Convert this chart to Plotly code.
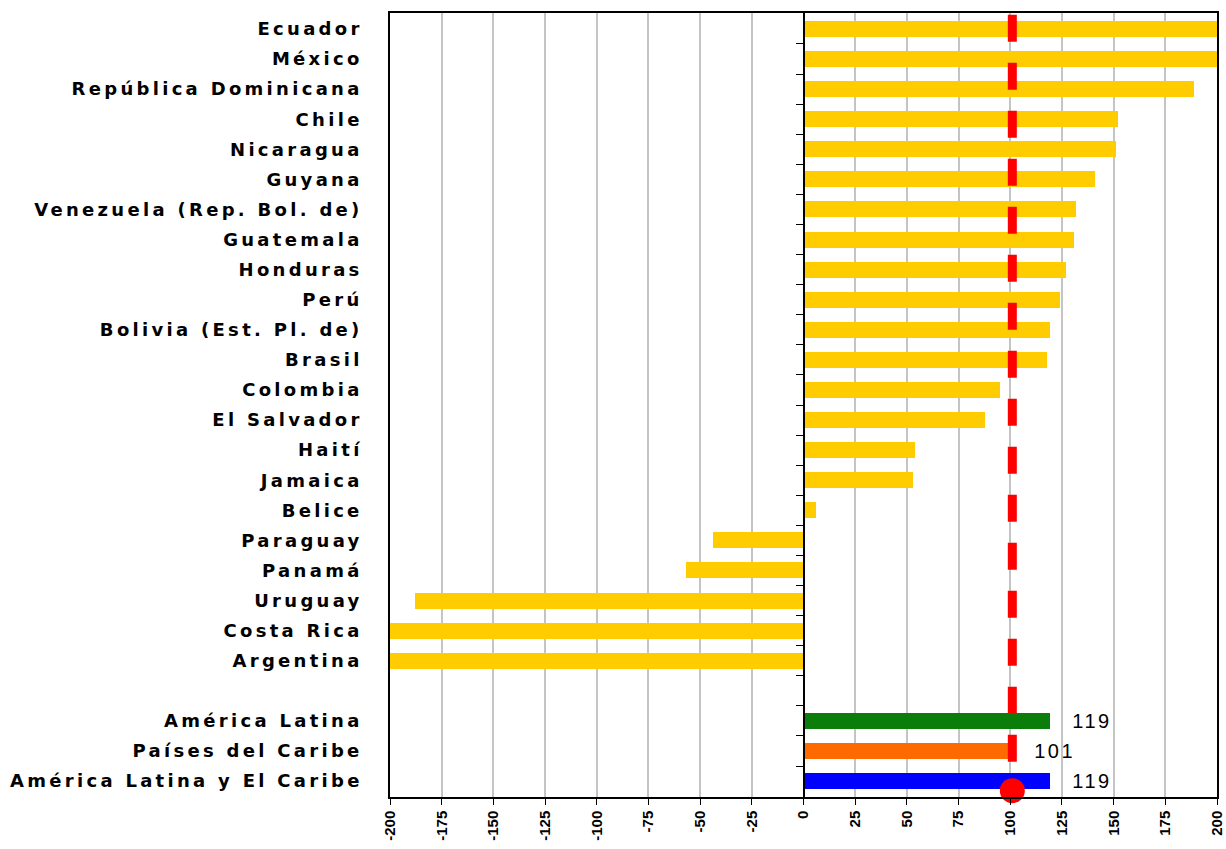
import plotly.graph_objects as go

countries = ["Ecuador", "México", "República Dominicana", "Chile", "Nicaragua", "Guyana",
             "Venezuela (Rep. Bol. de)", "Guatemala", "Honduras", "Perú",
             "Bolivia (Est. Pl. de)", "Brasil", "Colombia", "El Salvador", "Haití",
             "Jamaica", "Belice", "Paraguay", "Panamá", "Uruguay", "Costa Rica", "Argentina"]
country_values = [215, 210, 189, 152, 151, 141, 132, 131, 127, 124, 119, 118, 95, 88,
                  54, 53, 6, -44, -57, -188, -215, -220]

aggregates = ["América Latina", "Países del Caribe", "América Latina y El Caribe"]
aggregate_values = [119, 101, 119]
aggregate_colors = ["#0b7d0b", "#ff6a00", "#0000ff"]
aggregate_text = ["119", "101", "119"]

reference_value = 101
x_ticks = list(range(-200, 201, 25))

labels = countries + [""] + aggregates
n = len(labels)
pos_c = list(range(len(countries)))
pos_a = list(range(len(countries) + 1, n))

fig = go.Figure()
fig.add_trace(go.Bar(x=country_values, y=pos_c, orientation="h", width=0.53,
                     marker=dict(color="#ffcc00", line=dict(width=0)), showlegend=False))
fig.add_trace(go.Bar(x=aggregate_values, y=pos_a, orientation="h", width=0.53,
                     marker=dict(color=aggregate_colors, line=dict(width=0)), showlegend=False))

# reference dashed line and dot
fig.add_trace(go.Scatter(x=[reference_value, reference_value], y=[-0.47, n - 0.53], mode="lines",
                         line=dict(color="#ff0000", width=9, dash="27px,21px"),
                         yaxis="y2", showlegend=False, hoverinfo="skip"))
fig.add_trace(go.Scatter(x=[reference_value], y=[pos_a[-1] + 0.32], mode="markers",
                         marker=dict(color="#ff0000", size=25), yaxis="y2",
                         showlegend=False, hoverinfo="skip", cliponaxis=False))

for v, p, t in zip(aggregate_values, pos_a, aggregate_text):
    fig.add_annotation(x=v, y=p, text=t, showarrow=False, xanchor="left", xshift=24,
                       font=dict(family="Liberation Sans, Arial", size=20, color="black"))

yrange = [n - 0.47, -0.53]
fig.update_layout(
    width=1226, height=849,
    margin=dict(l=390, r=9, t=13, b=52, autoexpand=False),
    paper_bgcolor="white", plot_bgcolor="white",
    bargap=0,
    xaxis=dict(range=[-200, 200], tickvals=x_ticks, ticktext=[str(v) for v in x_ticks],
               tickangle=-90, ticks="outside", ticklen=6, tickcolor="black", automargin=False,
               showgrid=True, gridcolor="#c4c4c4", gridwidth=1.5,
               showline=True, linecolor="black", linewidth=1.5, mirror=True,
               zeroline=False,
               tickfont=dict(family="Liberation Sans, Arial", size=15, color="black", weight="bold")),
    yaxis=dict(range=yrange, tickvals=list(range(n)), ticktext=labels, ticks="", automargin=False,
               showline=True, linecolor="black", linewidth=1.5, mirror=True,
               showgrid=False, zeroline=False, ticklabelstandoff=22,
               tickfont=dict(family="DejaVu Sans", size=18, color="black", weight="bold")),
    yaxis2=dict(range=yrange, overlaying="y", anchor="free", position=0.5, side="left",
                tickvals=[i + 0.5 for i in range(n - 1)], ticks="outside", ticklen=7,
                automargin=False,
                tickcolor="black", showticklabels=False, showline=True, linecolor="black",
                linewidth=1.5, showgrid=False, zeroline=False),
)

style_js = (
    "var s=document.createElement('style');"
    "s.innerHTML='html,body{margin:0;padding:0;overflow:hidden;}"
    " .yaxislayer-above .ytick text{letter-spacing:3.3px;}"
    " .annotation-text{letter-spacing:2.5px;}';"
    "document.head.appendChild(s);"
)
fig.write_html("out.html", post_script=style_js, config={"displayModeBar": False})
